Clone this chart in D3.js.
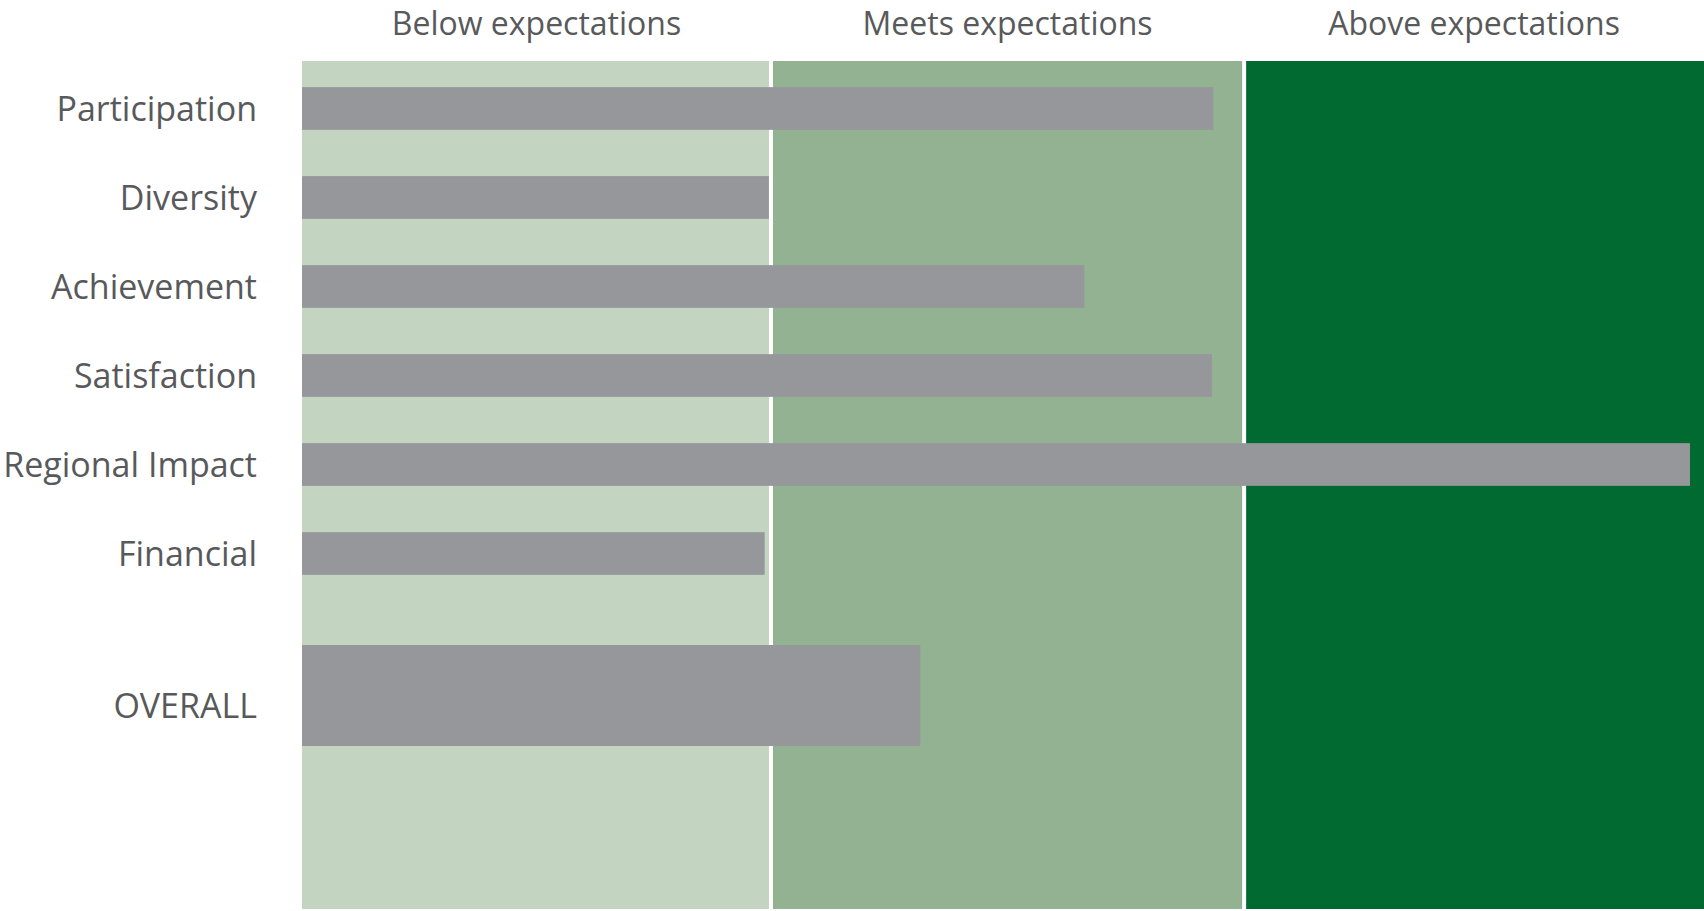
<!DOCTYPE html>
<html><head><meta charset="utf-8">
<script src="https://cdn.jsdelivr.net/npm/d3@7"></script>
<style>html,body{margin:0;padding:0;background:#fff;overflow:hidden}</style>
</head><body>
<svg id="chart" width="1704" height="911"></svg>
<script>
// ---- data ----
const categories = ["Participation", "Diversity", "Achievement", "Satisfaction", "Regional Impact", "Financial"];
const values = [65.0, 33.3, 55.8, 64.9, 99.0, 33.0];
const overallCategory = ["OVERALL"];
const overallValues = [44.1];
const bandLabels = ["Below expectations", "Meets expectations", "Above expectations"];
const bandStarts = [0, 33.45, 67.2];
const bandEnds = [33.45, 67.2, 100];

// ---- styles / layout ----
const bandColors = ["#c3d4c0", "#93b292", "#006a30"];
const barColor = "#96979b";
const textColor = "#58595b";
const fontFamily = "'Open Sans', 'Noto Sans', sans-serif";
const plot = {left: 302, right: 1704, top: 61, bottom: 909};

const svg = d3.select("#chart");
const x = d3.scaleLinear().domain([0, 100]).range([plot.left, plot.right]);
const y = d3.scaleBand().domain(categories).range([64, 598]).paddingInner(0.52).paddingOuter(0.26);
const yO = d3.scaleBand().domain(overallCategory).range([645, 746]).padding(0);

const bands = bandLabels.map((l, i) => ({label: l, s: bandStarts[i], e: bandEnds[i], c: bandColors[i]}));

svg.append("g").selectAll("rect").data(bands).join("rect")
  .attr("x", d => x(d.s)).attr("width", d => x(d.e) - x(d.s))
  .attr("y", plot.top).attr("height", plot.bottom - plot.top)
  .attr("fill", d => d.c);

// white separators between bands
svg.append("g").selectAll("line").data(bandStarts.slice(1)).join("line")
  .attr("x1", d => x(d)).attr("x2", d => x(d))
  .attr("y1", plot.top).attr("y2", plot.bottom)
  .attr("stroke", "#fff").attr("stroke-width", 4);

// band headers
svg.append("g").selectAll("text").data(bands).join("text")
  .attr("x", d => (x(d.s) + x(d.e)) / 2).attr("y", 35)
  .attr("text-anchor", "middle")
  .attr("font-family", fontFamily).attr("font-size", 32)
  .attr("fill", textColor).text(d => d.label);

const rows = categories.map((c, i) => ({c, v: values[i]}));
svg.append("g").selectAll("rect").data(rows).join("rect")
  .attr("x", x(0)).attr("width", d => x(d.v) - x(0))
  .attr("y", d => y(d.c)).attr("height", y.bandwidth())
  .attr("fill", barColor);

const orows = overallCategory.map((c, i) => ({c, v: overallValues[i]}));
svg.append("g").selectAll("rect").data(orows).join("rect")
  .attr("x", x(0)).attr("width", d => x(d.v) - x(0))
  .attr("y", d => yO(d.c)).attr("height", yO.bandwidth())
  .attr("fill", barColor);

// category labels
const labelX = 257;
svg.append("g").selectAll("text").data(rows).join("text")
  .attr("x", labelX).attr("y", d => y(d.c) + y.bandwidth() / 2)
  .attr("dy", "0.36em").attr("text-anchor", "end")
  .attr("font-family", fontFamily).attr("font-size", 34)
  .attr("fill", textColor).text(d => d.c);

svg.append("g").selectAll("text").data(orows).join("text")
  .attr("x", labelX).attr("y", d => yO(d.c) + yO.bandwidth() / 2 + 10)
  .attr("dy", "0.36em").attr("text-anchor", "end")
  .attr("font-family", fontFamily).attr("font-size", 34)
  .attr("fill", textColor).text(d => d.c);
</script>
</body></html>
